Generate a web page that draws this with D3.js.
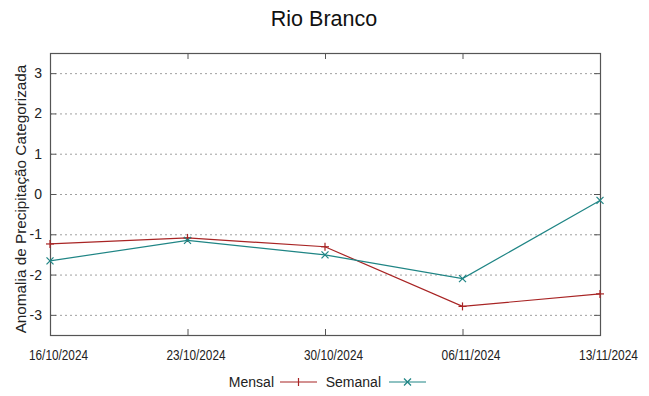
<!DOCTYPE html>
<html><head><meta charset="utf-8">
<script src="https://cdn.jsdelivr.net/npm/d3@7"></script>
<style>body{margin:0;background:#fff}svg{display:block;font-family:"Liberation Sans",Arial,sans-serif}</style>
</head><body><svg id="c" width="649" height="396"></svg>
<script>
const dates = ["16/10/2024","23/10/2024","30/10/2024","06/11/2024","13/11/2024"];
const mensal = [-1.24,-1.09,-1.31,-2.79,-2.48];
const semanal = [-1.66,-1.15,-1.51,-2.10,-0.16];
const yTicks = [-3,-2,-1,0,1,2,3];
const title = "Rio Branco";
const yLabel = "Anomalia de Precipitação Categorizada";
const seriesNames = ["Mensal","Semanal"];
const colors = ["#a82424","#1f8585"];

const parse = d3.timeParse("%d/%m/%Y");
const svg = d3.select("#c");
const L=50,R=600,T=53,B=335;
const x = d3.scaleTime().domain([parse(dates[0]),parse(dates[dates.length-1])]).range([L,R]);
const y = d3.scaleLinear().domain([-3.5,3.5]).range([B,T]);

// grid
svg.append("g").selectAll("line").data(yTicks).join("line")
  .attr("x1",L).attr("x2",R).attr("y1",d=>y(d)+0.5).attr("y2",d=>y(d)+0.5)
  .attr("stroke","#a0a0a0").attr("stroke-width",1).attr("stroke-dasharray","2,3");

// axes
const ax = g => g.selectAll(".domain").remove();
svg.append("g").attr("transform",`translate(0,${B})`)
  .call(d3.axisBottom(x).tickValues(dates.map(parse)).tickFormat(d3.timeFormat("%d/%m/%Y")).tickSizeInner(-6).tickPadding(15))
  .call(ax).call(g=>{g.selectAll("text").attr("font-size",14).attr("fill","#222").attr("dx",8).attr("textLength",59).attr("lengthAdjust","spacingAndGlyphs");g.selectAll("line").attr("stroke","#555");});
svg.append("g").attr("transform",`translate(0,${T})`)
  .call(d3.axisTop(x).tickValues(dates.map(parse)).tickFormat("").tickSizeInner(-6))
  .call(ax).call(g=>g.selectAll("line").attr("stroke","#555"));
svg.append("g").attr("transform",`translate(${L},0)`)
  .call(d3.axisLeft(y).tickValues(yTicks).tickFormat(d3.format("d")).tickSizeInner(-6).tickPadding(8))
  .call(ax).call(g=>{g.selectAll("text").attr("font-size",14).attr("fill","#222").text(d=>d<0?"-"+Math.abs(d):d);g.selectAll("line").attr("stroke","#555");});
svg.append("g").attr("transform",`translate(${R},0)`)
  .call(d3.axisRight(y).tickValues(yTicks).tickFormat("").tickSizeInner(-6))
  .call(ax).call(g=>g.selectAll("line").attr("stroke","#555"));

svg.append("rect").attr("x",L+0.5).attr("y",T+0.5).attr("width",R-L).attr("height",B-T)
  .attr("fill","none").attr("stroke","#555").attr("stroke-width",1.2);

// series
const data = [mensal,semanal];
const line = d3.line().x((d,i)=>x(parse(dates[i]))).y(d=>y(d));
const s=4;
data.forEach((vals,k)=>{
  svg.append("path").datum(vals).attr("d",line).attr("fill","none").attr("stroke",colors[k]).attr("stroke-width",1.2);
  const g = svg.append("g").attr("stroke",colors[k]).attr("stroke-width",1.2);
  vals.forEach((v,i)=>{
    const cx=x(parse(dates[i])), cy=y(v);
    if(k===0){
      g.append("line").attr("x1",cx-s).attr("x2",cx+s).attr("y1",cy).attr("y2",cy);
      g.append("line").attr("x1",cx).attr("x2",cx).attr("y1",cy-s).attr("y2",cy+s);
    } else {
      g.append("line").attr("x1",cx-3.5).attr("x2",cx+3.5).attr("y1",cy-3.5).attr("y2",cy+3.5);
      g.append("line").attr("x1",cx-3.5).attr("x2",cx+3.5).attr("y1",cy+3.5).attr("y2",cy-3.5);
    }
  });
});

// title
svg.append("text").attr("x",324).attr("y",26).attr("text-anchor","middle").attr("font-size",21.5).attr("fill","#111").text(title);
// y label
svg.append("text").attr("transform","translate(26,199) rotate(-90)").attr("text-anchor","middle").attr("font-size",15.3).attr("fill","#222").text(yLabel);

// legend
const legY=382;
const legend=[{t:seriesNames[0],tx:274,x1:280,x2:317},{t:seriesNames[1],tx:381,x1:389,x2:426}];
legend.forEach((d,k)=>{
  svg.append("text").attr("x",d.tx).attr("y",legY+5).attr("text-anchor","end").attr("font-size",14).attr("fill","#222").text(d.t);
  svg.append("line").attr("x1",d.x1).attr("x2",d.x2).attr("y1",legY).attr("y2",legY).attr("stroke",colors[k]).attr("stroke-width",1.2);
  const cx=(d.x1+d.x2)/2;
  const g=svg.append("g").attr("stroke",colors[k]).attr("stroke-width",1.2);
  if(k===0){
    g.append("line").attr("x1",cx).attr("x2",cx).attr("y1",legY-s).attr("y2",legY+s);
  } else {
    g.append("line").attr("x1",cx-3.5).attr("x2",cx+3.5).attr("y1",legY-3.5).attr("y2",legY+3.5);
    g.append("line").attr("x1",cx-3.5).attr("x2",cx+3.5).attr("y1",legY+3.5).attr("y2",legY-3.5);
  }
});
</script></body></html>
